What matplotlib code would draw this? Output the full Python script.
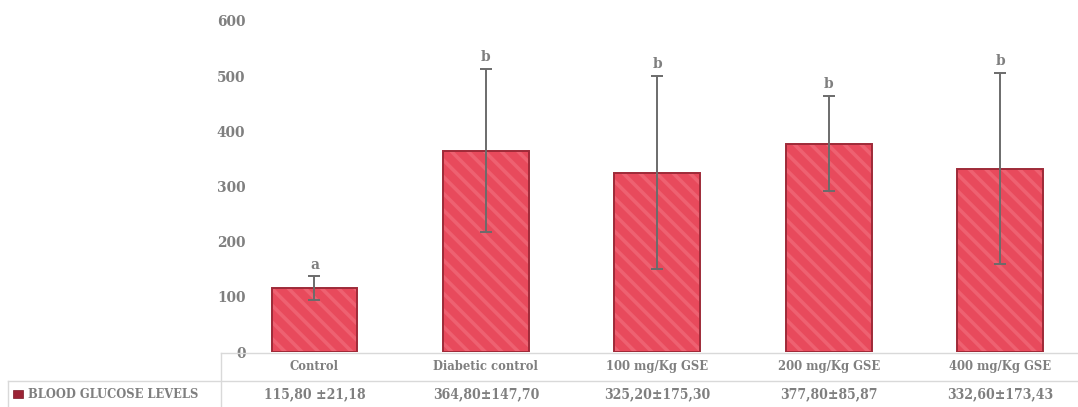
import matplotlib
matplotlib.use("Agg")
import matplotlib.pyplot as plt
import matplotlib.transforms as mtransforms
from matplotlib.lines import Line2D
from matplotlib.patches import Rectangle
from matplotlib import font_manager

# ---- data ----
categories = ["Control", "Diabetic control", "100 mg/Kg GSE", "200 mg/Kg GSE", "400 mg/Kg GSE"]
means = [115.80, 364.80, 325.20, 377.80, 332.60]
sds = [21.18, 147.70, 175.30, 85.87, 173.43]
letters = ["a", "b", "b", "b", "b"]
value_labels = ["115,80 \u00b121,18", "364,80\u00b1147,70", "325,20\u00b1175,30",
                "377,80\u00b185,87", "332,60\u00b1173,43"]
series_name = "BLOOD GLUCOSE LEVELS"
yticks = [0, 100, 200, 300, 400, 500, 600]

W, H = 1078, 407
plt.rcParams['hatch.linewidth'] = 2.6

# prefer a condensed serif if present
has_cond = any(f.name == "DejaVu Serif" and f.stretch == "condensed" and f.weight in ("bold", 700)
               for f in font_manager.fontManager.ttflist)
if has_cond:
    FONT = dict(family="DejaVu Serif", weight="bold", stretch="condensed")
    SZ = dict(tick=11, cat=9.3, val=10, leg=9.2, let=11)
else:
    FONT = dict(family="DejaVu Serif", weight="bold")
    SZ = dict(tick=9.5, cat=8.5, val=9.2, leg=8.4, let=10)
GRAY = "#7f7f7f"

fig = plt.figure(figsize=(W / 100, H / 100), dpi=100)
fig.patch.set_facecolor("white")

def fx(x):
    return x / W

def fy(y):
    return 1 - y / H

ax_left, ax_right, ax_top, ax_bottom = 228.75, 1085.75, 21, 352
ax = fig.add_axes([fx(ax_left), fy(ax_bottom), (ax_right - ax_left) / W, (ax_bottom - ax_top) / H])
xs = list(range(len(categories)))

ax.bar(xs, means, width=0.5, color="#E84A5C", hatch="\\\\", edgecolor="#EE6171", linewidth=0, zorder=2)
ax.bar(xs, means, width=0.5, fill=False, edgecolor="#9E2A38", linewidth=1.4, zorder=3)
ax.errorbar(xs, means, yerr=sds, fmt="none", ecolor="#6b6b6b", elinewidth=1.4,
            capsize=4.5, capthick=1.4, zorder=4)
for x, m, s, l in zip(xs, means, sds, letters):
    ax.annotate(l, (x, m + s), xytext=(0, 3.5), textcoords="offset points",
                ha="center", va="bottom", color=GRAY, fontsize=SZ["let"], **FONT)

ax.set_xlim(-0.5, len(categories) - 0.5)
ax.set_ylim(0, 600)
ax.set_yticks(yticks)
ax.set_yticklabels([str(t) for t in yticks], color=GRAY, fontsize=SZ["tick"], **FONT)
ax.tick_params(axis="y", length=0, pad=-12)
ax.set_xticks([])
for sp in ax.spines.values():
    sp.set_visible(False)

# ---- data table ----
trans = mtransforms.blended_transform_factory(ax.transData, fig.transFigure)
for x, c, v in zip(xs, categories, value_labels):
    ax.text(x, fy(366.5), c, transform=trans, ha="center", va="center",
            color=GRAY, fontsize=SZ["cat"], clip_on=False, **FONT)
    ax.text(x, fy(394), v, transform=trans, ha="center", va="center",
            color=GRAY, fontsize=SZ["val"], clip_on=False, **FONT)

line_kw = dict(color="#d9d9d9", linewidth=1, transform=fig.transFigure)
fig.add_artist(Line2D([fx(221), fx(W)], [fy(352.5), fy(352.5)], **line_kw))
fig.add_artist(Line2D([fx(8), fx(W)], [fy(380.5), fy(380.5)], **line_kw))
fig.add_artist(Line2D([fx(221), fx(221)], [fy(352.5), fy(H)], **line_kw))
fig.add_artist(Line2D([fx(8), fx(8)], [fy(380.5), fy(H)], **line_kw))

fig.add_artist(Rectangle((fx(13), fy(397.5)), 10 / W, 7.5 / H, transform=fig.transFigure,
                         facecolor="#9B2335", edgecolor="#7a1826", linewidth=0.5))
fig.text(fx(28), fy(394), series_name, ha="left", va="center", color=GRAY,
         fontsize=SZ["leg"], **FONT)

fig.savefig("out.png", dpi=100)
